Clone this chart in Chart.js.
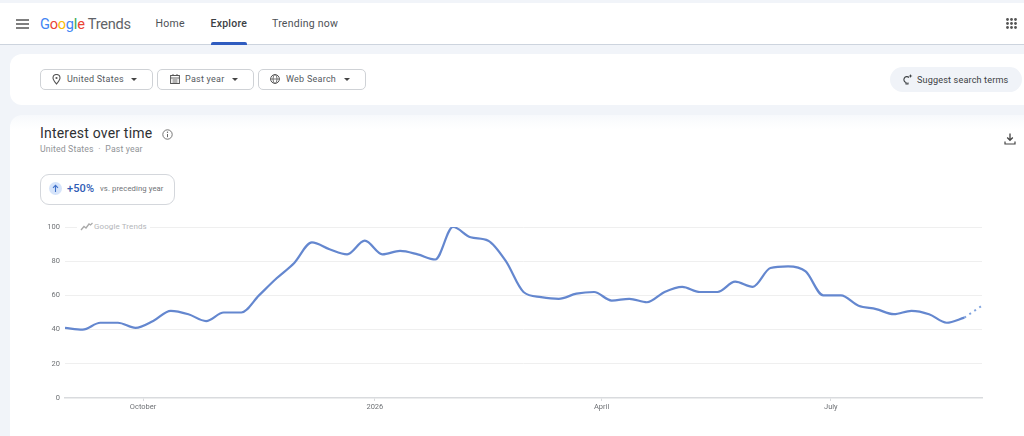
<!DOCTYPE html>
<html>
<head>
<meta charset="utf-8">
<title>Interest over time</title>
<script src="https://cdn.jsdelivr.net/npm/chart.js@4"></script>
<style>
html, body { margin: 0; padding: 0; width: 1024px; height: 436px; overflow: hidden; background: #f1f4f9; font-family: Roboto, "Noto Sans", sans-serif; color: #3c4043; }
.abs { position: absolute; white-space: nowrap; }
#topbar { left: 0; top: 3px; width: 1024px; height: 41px; background: #fff; border-bottom: 1px solid #cdd4de; box-sizing: content-box; }
#filters { left: 10px; top: 54px; width: 1014px; height: 51px; background: #fff; border-radius: 12px 0 0 12px; }
#card { left: 10px; top: 115px; width: 1014px; height: 321px; background: linear-gradient(#f7f9fc, #fff 14px); border-radius: 12px 0 0 0; }
.logo { left: 40px; top: 13px; font-size: 14.6px; letter-spacing: -0.25px; line-height: 22px; }
.nav { top: 17px; font-size: 10.5px; line-height: 14px; letter-spacing: 0.25px; color: #4d5156; }
.pill { top: 69px; height: 19px; border: 1px solid #cfd2d6; border-radius: 5px; background: #fff; box-sizing: content-box; }
.pilltext { top: 74px; font-size: 9px; line-height: 11px; letter-spacing: 0.25px; color: #55595e; }
.caret { width: 0; height: 0; border-left: 3.5px solid transparent; border-right: 3.5px solid transparent; border-top: 3.5px solid #444; top: 78px; }
canvas { display: block; }
#wrap { left: 0; top: 210px; width: 1024px; height: 226px; }
</style>
</head>
<body>
<div class="abs" id="topbar"></div>
<div class="abs" id="filters"></div>
<div class="abs" id="card"></div>

<!-- barra superior -->
<svg class="abs" style="left:16px;top:19px" width="13" height="10"><path d="M0 1h13M0 5h13M0 9h13" stroke="#555" stroke-width="1.4"/></svg>
<div class="abs logo"><span style="color:#4285f4">G</span><span style="color:#ea4335">o</span><span style="color:#fbbc05">o</span><span style="color:#4285f4">g</span><span style="color:#34a853">l</span><span style="color:#ea4335">e</span> <span style="color:#5f6368">Trends</span></div>
<div class="abs nav" style="left:155.5px">Home</div>
<div class="abs nav" style="left:210.5px;color:#3c4043;font-weight:500">Explore</div>
<div class="abs nav" style="left:272px">Trending now</div>
<div class="abs" style="left:211px;top:41.5px;width:36px;height:3px;background:#2f5cc0;border-radius:2px 2px 0 0"></div>
<svg class="abs" style="left:1006px;top:18px" width="11" height="11"><g fill="#555"><circle cx="1.5" cy="1.5" r="1.4"/><circle cx="5.5" cy="1.5" r="1.4"/><circle cx="9.5" cy="1.5" r="1.4"/><circle cx="1.5" cy="5.5" r="1.4"/><circle cx="5.5" cy="5.5" r="1.4"/><circle cx="9.5" cy="5.5" r="1.4"/><circle cx="1.5" cy="9.5" r="1.4"/><circle cx="5.5" cy="9.5" r="1.4"/><circle cx="9.5" cy="9.5" r="1.4"/></g></svg>

<!-- filtros -->
<div class="abs pill" style="left:40px;width:111px"></div>
<svg class="abs" style="left:52px;top:74px" width="9" height="11"><path d="M4.5 10C2.5 7.5 1 5.8 1 4a3.5 3.5 0 0 1 7 0c0 1.8-1.500 3.500-3.500 6z" fill="none" stroke="#555" stroke-width="1.100"/><circle cx="4.500" cy="4" r="1.100" fill="#555"/></svg>
<div class="abs pilltext" style="left:67px">United States</div>
<div class="abs caret" style="left:131px"></div>
<div class="abs pill" style="left:157px;width:95px"></div>
<svg class="abs" style="left:170px;top:74px" width="10" height="10"><rect x="0.600" y="1.500" width="8.800" height="8" fill="none" stroke="#555" stroke-width="1"/><path d="M0.600 4h8.800M3 0v2M7 0v2M2.500 6h5M2.500 8h5" stroke="#555" stroke-width="0.900"/></svg>
<div class="abs pilltext" style="left:185px">Past year</div>
<div class="abs caret" style="left:232px"></div>
<div class="abs pill" style="left:258px;width:106px"></div>
<svg class="abs" style="left:270px;top:74px" width="10" height="10"><circle cx="5" cy="5" r="4.400" fill="none" stroke="#555" stroke-width="1"/><ellipse cx="5" cy="5" rx="2" ry="4.400" fill="none" stroke="#555" stroke-width="0.800"/><path d="M0.600 5h8.800" stroke="#555" stroke-width="0.800"/></svg>
<div class="abs pilltext" style="left:286px">Web Search</div>
<div class="abs caret" style="left:344px"></div>
<div class="abs" style="left:890px;top:67px;width:132px;height:25px;background:#f0f3f8;border-radius:13px"></div>
<svg class="abs" style="left:902px;top:74px" width="11" height="12"><path d="M7 3.500a3 3 0 1 0-3 5v1.500h2V8.500" fill="none" stroke="#3c4043" stroke-width="1.100"/><path d="M8.500 0l.6 1.400L10.500 2l-1.400.6L8.500 4l-.6-1.400L6.500 2l1.400-.6z" fill="#3c4043"/></svg>
<div class="abs" style="left:917px;top:74px;font-size:9.100px;line-height:12px;letter-spacing:0.150px;color:#3c4043">Suggest search terms</div>

<!-- cabecera de la tarjeta -->
<div class="abs" style="left:40px;top:125px;font-size:14px;line-height:17px;letter-spacing:0.200px;color:#2f3134">Interest over time</div>
<svg class="abs" style="left:162px;top:129px" width="11" height="11"><circle cx="5.500" cy="5.500" r="4.700" fill="none" stroke="#666" stroke-width="0.900"/><path d="M5.500 5v3.200" stroke="#666" stroke-width="1"/><circle cx="5.500" cy="3.300" r="0.700" fill="#666"/></svg>
<div class="abs" style="left:40px;top:144px;font-size:8.700px;line-height:11px;letter-spacing:0.150px;color:#919498">United States&nbsp; · &nbsp;Past year</div>
<svg class="abs" style="left:1004px;top:133px" width="12" height="12"><path d="M6 0.500v6.500M3.200 4.500L6 7.300l2.800-2.800" fill="none" stroke="#444" stroke-width="1.300"/><path d="M1 8.500v2.500h10V8.500" fill="none" stroke="#444" stroke-width="1.200"/></svg>
<div class="abs" style="left:40px;top:174px;width:133px;height:29px;border:1px solid #d4d7dc;border-radius:9px;background:#fff"></div>
<svg class="abs" style="left:49px;top:182px" width="13" height="13"><circle cx="6.500" cy="6.500" r="6.500" fill="#d6e4fa"/><path d="M6.500 10V3.500M4 5.800l2.500-2.500L9 5.800" fill="none" stroke="#3f70c9" stroke-width="1.100"/></svg>
<div class="abs" style="left:67px;top:182px;font-size:11px;line-height:13px;font-weight:500;letter-spacing:0.100px;color:#2f5cb5">+50%</div>
<div class="abs" style="left:100px;top:184px;font-size:7.700px;line-height:10px;letter-spacing:0.100px;color:#6f7276">vs. preceding year</div>

<div class="abs" id="wrap"><canvas id="chart" width="1024" height="226"></canvas></div>

<!-- marca de agua sobre la primera linea de la cuadricula -->
<div class="abs" style="left:77px;top:220px;width:73px;height:13px;background:#fff"></div>
<svg class="abs" style="left:80px;top:222px" width="13" height="9"><path d="M1 8l3-3.500 2 1.500 3-4 1.500 1L12.500 1" fill="none" stroke="#aaa" stroke-width="1.300"/></svg>
<div class="abs" style="left:94px;top:221px;font-size:8px;line-height:11px;letter-spacing:0.100px;color:#b4b6b9">Google Trends</div>

<script>
// Datos semanales
var startDate = '2025-08-31';
var weeklyValues = [41, 40, 44, 44, 41, 45, 51, 49, 45, 50, 50, 60, 70, 79, 91, 87, 84, 92, 84, 86, 84, 81, 100, 94, 92, 80,
                    62, 59, 58, 61, 62, 57, 58, 56, 62, 65, 62, 62, 68, 65, 76, 77, 74, 60, 60, 54, 52, 49, 51, 49, 44, 47];
var partialValue = 54; // ultima semana, incompleta (punteada)
var yTicks = [0, 20, 40, 60, 80, 100];
var xTickDates = ['2025-10-01', '2026-01-01', '2026-04-01', '2026-07-01'];
var xTickLabels = ['October', '2026', 'April', 'July'];

function daysFromStart(dateStr) {
    return (Date.parse(dateStr) - Date.parse(startDate)) / 86400000;
}

var solidPoints = weeklyValues.map(function (v, i) { return { x: i * 7, y: v }; });
var lastIndex = weeklyValues.length - 1;
var dashedPoints = [
    { x: lastIndex * 7, y: weeklyValues[lastIndex] },
    { x: (lastIndex + 1) * 7, y: partialValue }
];
var xTickDays = xTickDates.map(daysFromStart);

new Chart(document.getElementById('chart'), {
    type: 'line',
    data: {
        datasets: [
            { data: solidPoints, borderColor: '#6487cf', borderWidth: 2.2, pointRadius: 0, cubicInterpolationMode: 'monotone' },
            { data: dashedPoints, borderColor: '#7fa3de', borderWidth: 2, borderDash: [2, 4], pointRadius: 0 }
        ]
    },
    options: {
        responsive: false,
        animation: false,
        layout: { padding: { left: 35, right: 42, top: 17, bottom: 0 } },
        plugins: { legend: { display: false }, tooltip: { enabled: false } },
        scales: {
            x: {
                type: 'linear',
                min: 0,
                max: (lastIndex + 1) * 7,
                afterBuildTicks: function (scale) {
                    scale.ticks = xTickDays.map(function (d) { return { value: d }; });
                },
                afterFit: function (scale) { scale.height = 38; },
                border: { color: '#d9dbde', width: 1.5 },
                grid: { drawOnChartArea: false, drawTicks: true, tickLength: 3, color: '#d9dbde' },
                ticks: {
                    autoSkip: false,
                    maxRotation: 0,
                    padding: 2,
                    color: '#6f7276',
                    font: { family: 'Roboto', size: 7.5 },
                    callback: function (value) { return xTickLabels[xTickDays.indexOf(value)]; }
                }
            },
            y: {
                min: 0,
                max: 100,
                afterBuildTicks: function (scale) {
                    scale.ticks = yTicks.map(function (v) { return { value: v }; });
                },
                afterFit: function (scale) { scale.width = 30; },
                border: { display: false },
                grid: {
                    tickLength: 0,
                    color: function (ctx) { return ctx.tick.value === 0 ? 'rgba(0,0,0,0)' : '#efefef'; }
                },
                ticks: {
                    padding: 5,
                    color: '#6f7276',
                    font: { family: 'Roboto', size: 7.5 }
                }
            }
        }
    }
});
</script>
</body>
</html>
